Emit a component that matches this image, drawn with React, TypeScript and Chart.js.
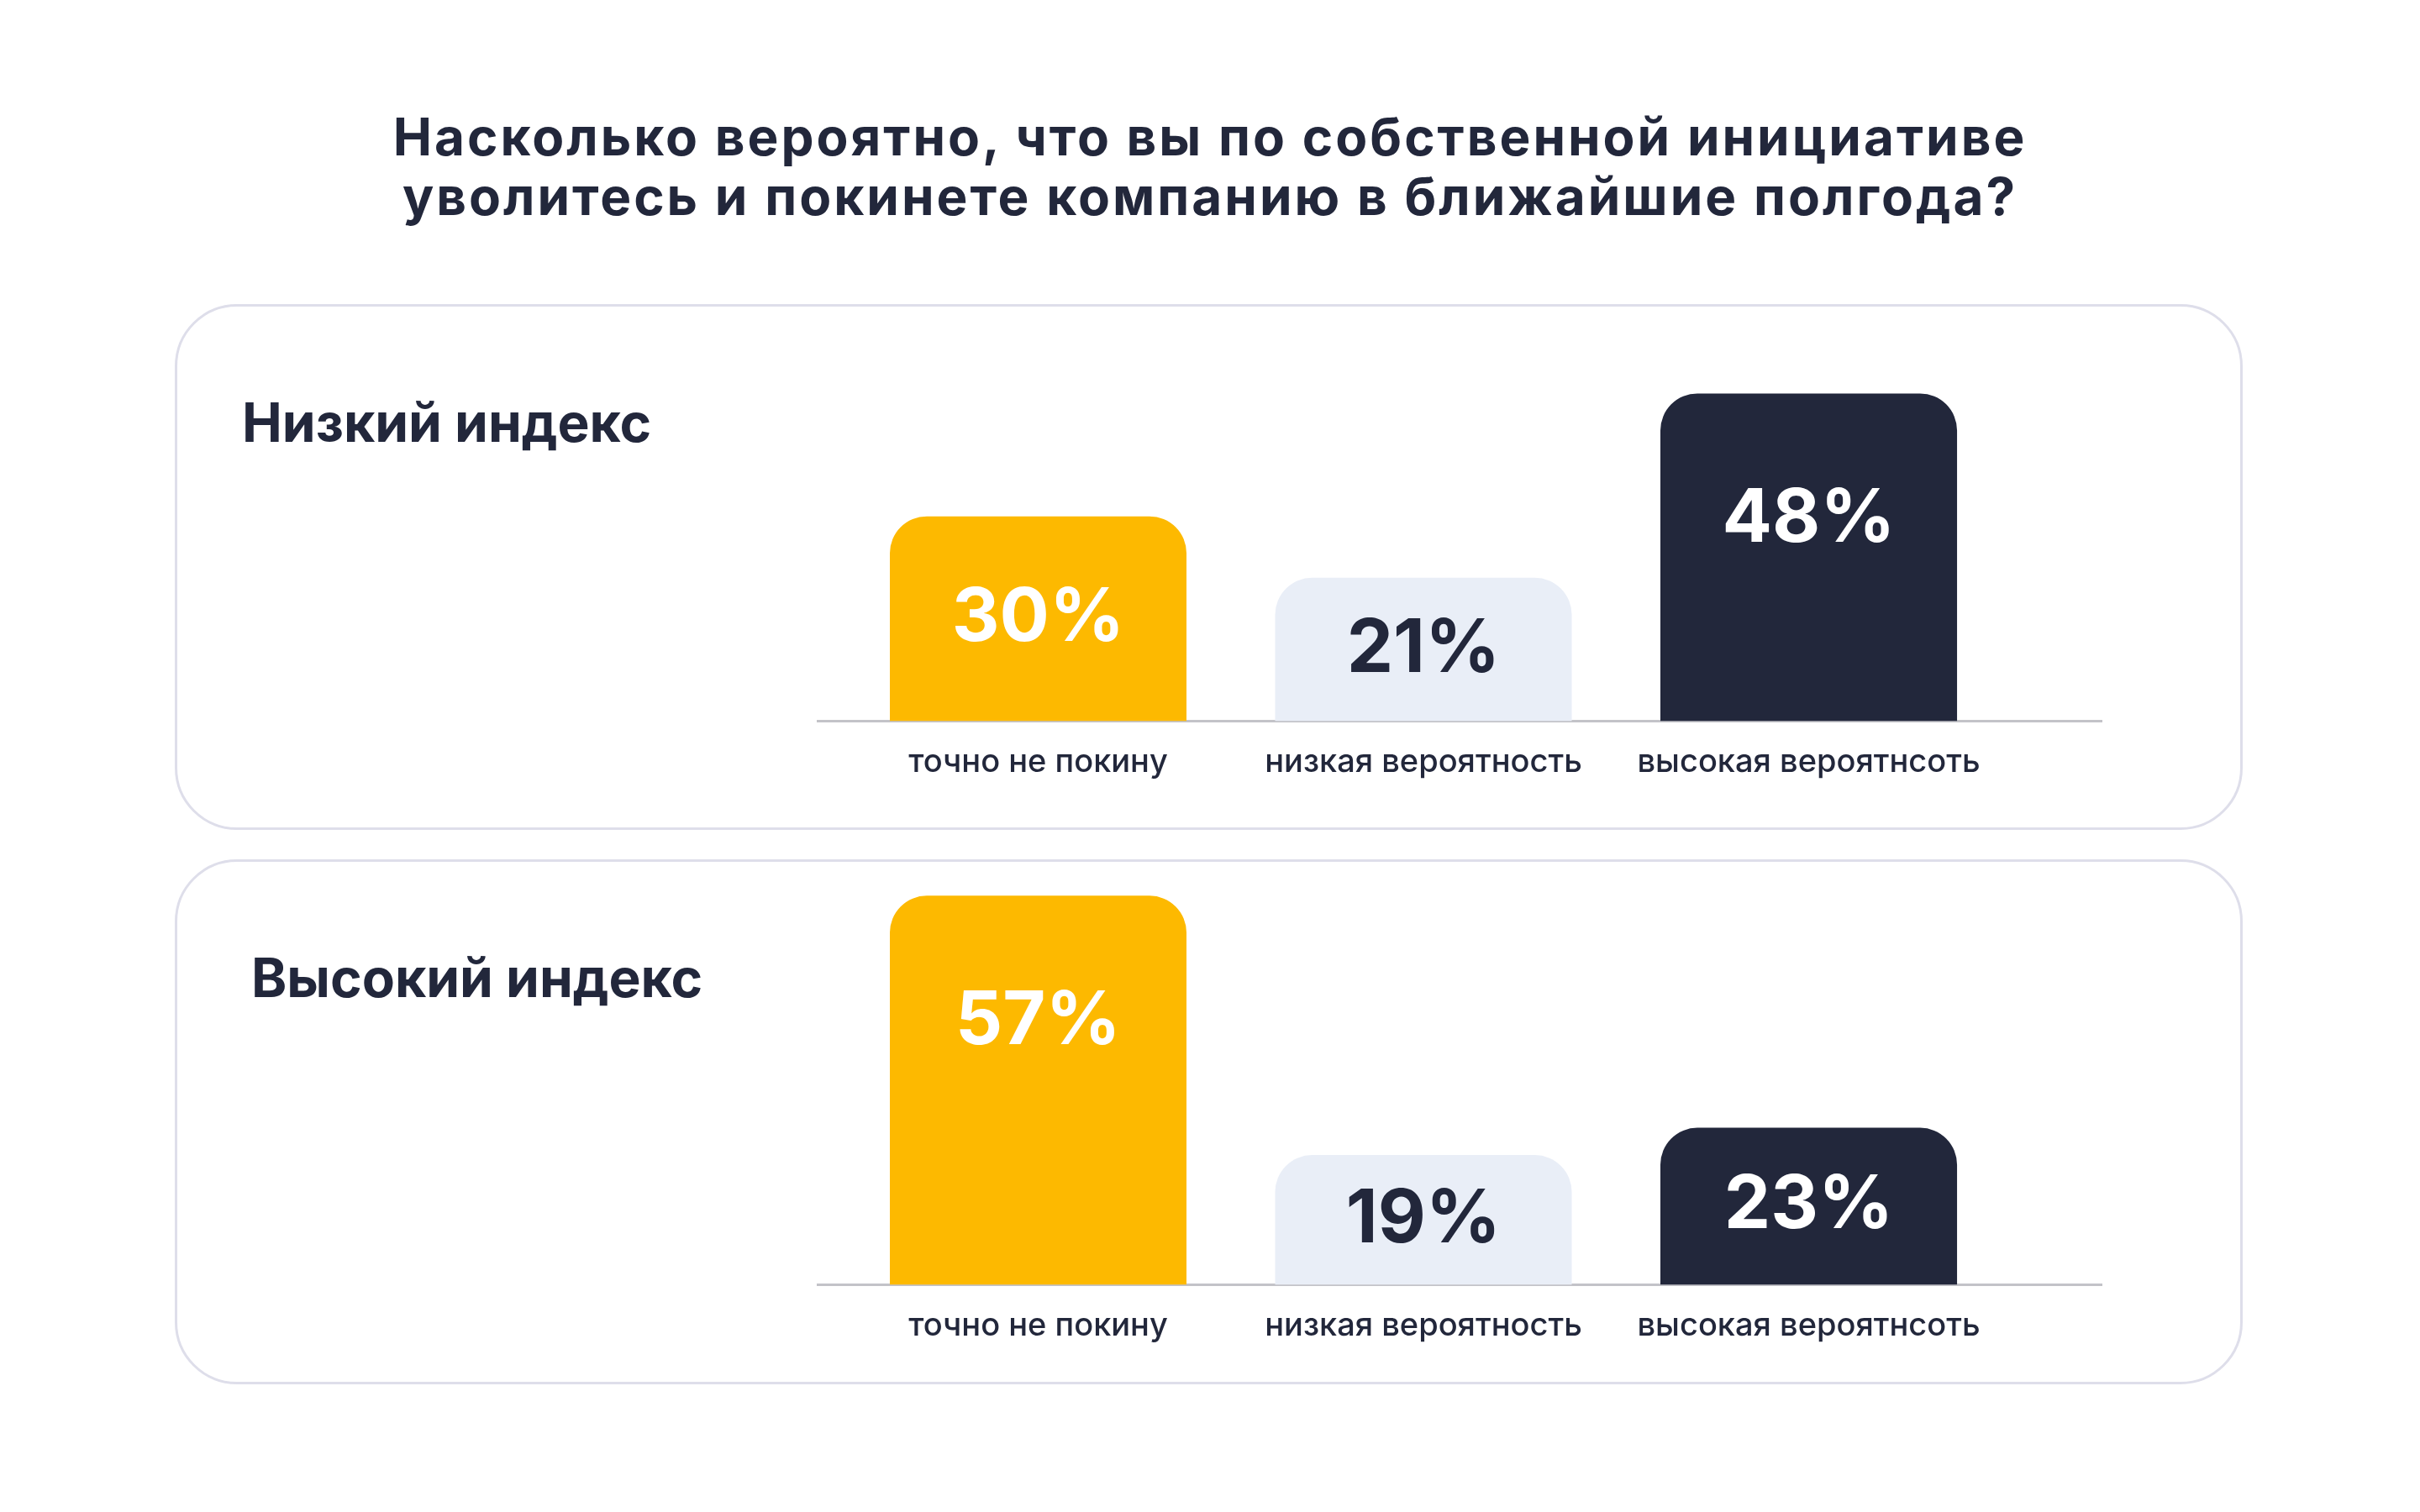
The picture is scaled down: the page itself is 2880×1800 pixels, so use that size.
import React, { useEffect, useRef } from 'react';
import { Chart, registerables } from 'chart.js';

Chart.register(...registerables);

const titleLines = [
  'Насколько вероятно, что вы по собственной инициативе',
  'уволитесь и покинете компанию в ближайшие полгода?',
];
const categories = ['точно не покину', 'низкая вероятность', 'высокая вероятнсоть'];
const panelTitles = ['Низкий индекс', 'Высокий индекс'];
const lowIndexValues = [30, 21, 48];
const highIndexValues = [57, 19, 23];
const barColors = ['#FDB900', '#E9EEF7', '#22273B'];
const labelColors = ['#FFFFFF', '#22273B', '#FFFFFF'];

const TEXT = '#22273B';
const FONT = 'Inter, "Noto Sans", sans-serif';

const valueLabels = {
  id: 'valueLabels',
  afterDatasetsDraw(chart: any) {
    const ctx = chart.ctx;
    const meta = chart.getDatasetMeta(0);
    const data = chart.data.datasets[0].data as any[];
    ctx.save();
    ctx.font = `700 88px ${FONT}`;
    ctx.textAlign = 'center';
    ctx.textBaseline = 'middle';
    meta.data.forEach((bar: any, i: number) => {
      const { x, y, base } = bar.getProps(['x', 'y', 'base'], true);
      const h = base - y;
      const cy = y + Math.min(h / 2, 150);
      ctx.fillStyle = labelColors[i];
      ctx.fillText(`${data[i].y}%`, x, cy);
    });
    ctx.restore();
  },
};

function BarPanel({ values, canvasTop }: { values: number[]; canvasTop: number }) {
  const ref = useRef<HTMLCanvasElement | null>(null);
  useEffect(() => {
    if (!ref.current) return;
    const chart = new Chart(ref.current, {
      type: 'bar',
      data: {
        datasets: [
          {
            data: values.map((v, i) => ({ x: i, y: v })),
            backgroundColor: barColors,
            borderWidth: 0,
            borderRadius: { topLeft: 44, topRight: 44, bottomLeft: 0, bottomRight: 0 },
            borderSkipped: false,
            barPercentage: 0.77,
            categoryPercentage: 1,
          },
        ],
      },
      options: {
        responsive: false,
        animation: false,
        devicePixelRatio: 1,
        layout: { padding: { left: 13, right: 59, top: 11, bottom: 30 } },
        plugins: { legend: { display: false }, tooltip: { enabled: false }, title: { display: false } },
        scales: {
          x: {
            type: 'linear',
            offset: false,
            min: -0.5725,
            max: 2.76,
            grid: { display: false, drawTicks: false, offset: false },
            border: { display: true, color: '#C3C3C8', width: 3 },
            afterBuildTicks: (scale: any) => {
              scale.ticks = categories.map((_, i) => ({ value: i }));
            },
            ticks: {
              autoSkip: false,
              maxRotation: 0,
              padding: 26,
              color: TEXT,
              font: { family: FONT, size: 38, weight: 500 },
              callback: (v: any) => categories[Math.round(Number(v))] ?? '',
            },
          },
          y: {
            display: false,
            min: 0,
            max: 60,
          },
        },
      },
      plugins: [valueLabels],
    } as any);
    return () => chart.destroy();
  }, [values]);
  return (
    <canvas
      ref={ref}
      width={1600}
      height={626}
      style={{ position: 'absolute', left: 960, top: canvasTop, width: 1600, height: 626 }}
    />
  );
}

const panelBox = (top: number, height: number): React.CSSProperties => ({
  position: 'absolute',
  left: 208,
  top,
  width: 2461,
  height,
  boxSizing: 'border-box',
  border: '3px solid #DEDEEA',
  borderRadius: 74,
  background: '#FFFFFF',
});

export default function App() {
  return (
    <div
      style={{
        position: 'absolute',
        left: 0,
        top: 0,
        width: 2880,
        height: 1800,
        background: '#FFFFFF',
        fontFamily: FONT,
        color: TEXT,
        overflow: 'hidden',
      }}
    >
      <div
        style={{
          position: 'absolute',
          left: 0,
          width: 2880,
          top: 127,
          textAlign: 'center',
          fontSize: 62,
          fontWeight: 700,
          lineHeight: '71px',
          letterSpacing: 3,
        }}
      >
        {titleLines.map((l) => (
          <div key={l}>{l}</div>
        ))}
      </div>

      <div style={panelBox(362, 626)} />
      <div style={panelBox(1023, 625)} />

      <div style={{ position: 'absolute', left: 288, top: 471, fontSize: 64, fontWeight: 700, lineHeight: '64px' }}>
        {panelTitles[0]}
      </div>
      <div style={{ position: 'absolute', left: 299, top: 1132, fontSize: 64, fontWeight: 700, lineHeight: '64px' }}>
        {panelTitles[1]}
      </div>

      <BarPanel values={lowIndexValues} canvasTop={360} />
      <BarPanel values={highIndexValues} canvasTop={1031} />
    </div>
  );
}
